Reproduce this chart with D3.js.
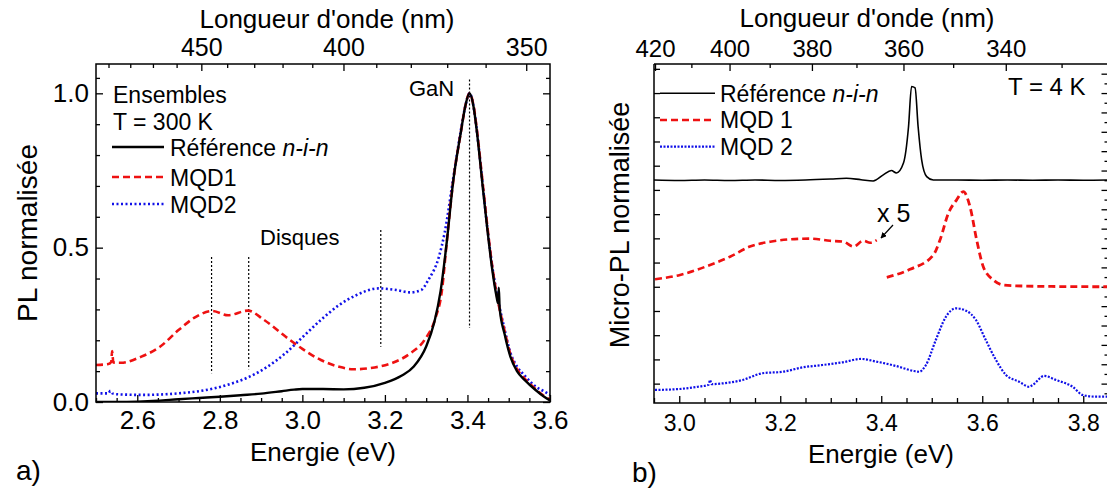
<!DOCTYPE html>
<html><head><meta charset="utf-8">
<script src="https://cdn.jsdelivr.net/npm/d3@7"></script>
<style>
body{margin:0;background:#fff}
text{font-family:"Liberation Sans",Arial,sans-serif;fill:#000}
</style>
</head><body>
<svg id="c" width="1107" height="489"></svg>
<script>
// ---------- Panel a) : ensembles, T = 300 K ----------
const energyRefA = [2.50,2.55,2.60,2.65,2.70,2.75,2.80,2.85,2.90,2.95,2.98,3.00,3.05,3.10,3.15,3.20,3.24,3.27,3.30,3.32,3.335,3.35,3.365,3.384,3.395,3.405,3.415,3.423,3.436,3.449,3.46,3.47,3.474,3.476,3.478,3.49,3.504,3.52,3.539,3.565,3.585,3.60];
const plRefA    = [0.0,0.0,0.001,0.004,0.009,0.013,0.017,0.022,0.027,0.035,0.040,0.042,0.042,0.041,0.046,0.062,0.085,0.115,0.18,0.26,0.36,0.52,0.71,0.874,0.96,1.0,0.955,0.874,0.71,0.55,0.43,0.345,0.32,0.37,0.305,0.22,0.147,0.10,0.071,0.039,0.018,0.005];

const energyMqd1A = [2.50,2.53,2.537,2.539,2.542,2.56,2.61,2.655,2.70,2.742,2.781,2.82,2.868,2.907,2.959,3.00,3.045,3.089,3.123,3.175,3.219,3.262,3.296,3.322,3.338,3.35,3.365,3.384,3.395,3.405,3.415,3.423,3.436,3.449,3.46,3.47,3.49,3.504,3.52,3.539,3.565,3.585,3.60];
const plMqd1A     = [0.12,0.123,0.13,0.165,0.128,0.127,0.147,0.179,0.233,0.276,0.295,0.281,0.296,0.266,0.212,0.172,0.136,0.114,0.106,0.112,0.127,0.158,0.201,0.27,0.36,0.52,0.71,0.874,0.96,1.0,0.958,0.88,0.72,0.56,0.44,0.355,0.23,0.155,0.107,0.075,0.042,0.02,0.008];

const energyMqd2A = [2.50,2.53,2.535,2.54,2.552,2.612,2.70,2.786,2.829,2.872,2.915,2.959,3.002,3.045,3.089,3.132,3.184,3.227,3.262,3.288,3.305,3.331,3.345,3.365,3.384,3.395,3.405,3.415,3.423,3.436,3.449,3.46,3.47,3.49,3.504,3.52,3.539,3.565,3.585,3.60];
const plMqd2A     = [0.028,0.028,0.036,0.028,0.025,0.023,0.028,0.044,0.06,0.082,0.114,0.158,0.212,0.266,0.314,0.347,0.368,0.363,0.355,0.363,0.395,0.471,0.55,0.72,0.88,0.96,1.0,0.955,0.876,0.715,0.555,0.44,0.36,0.235,0.16,0.115,0.085,0.05,0.035,0.023];

// marker lines (dotted verticals)
const markerEnergyA = [2.78,2.87,3.19,3.405];
const markerTopA    = [0.47,0.47,0.557,1.045];
const markerBottomA = [0.093,0.106,0.179,0.24];

const energyTicksA   = [2.6,2.8,3.0,3.2,3.4,3.6];
const energyMinorA   = [2.5,2.55,2.65,2.7,2.75,2.85,2.9,2.95,3.05,3.1,3.15,3.25,3.3,3.35,3.45,3.5,3.55];
const plTicksA       = [0.0,0.5,1.0];
const plMinorA       = [0.1,0.2,0.3,0.4,0.6,0.7,0.8,0.9,1.05];
const wlTicksA       = [450,400,350];
const wlMinorA       = [490,480,470,460,440,430,420,410,390,380,370,360];

// ---------- Panel b) : micro-PL, T = 4 K (offset, arbitrary units) ----------
const energyRefB = [2.95,3.0,3.05,3.1,3.15,3.2,3.25,3.3,3.331,3.36,3.384,3.404,3.42,3.43,3.444,3.454,3.460,3.467,3.473,3.48,3.49,3.503,3.55,3.6,3.65,3.7,3.75,3.8,3.85];
const plRefB     = [8.41,8.39,8.41,8.39,8.41,8.39,8.41,8.45,8.48,8.42,8.37,8.62,8.80,8.70,9.11,10.61,12.27,12.21,10.61,9.24,8.55,8.41,8.41,8.40,8.41,8.40,8.41,8.40,8.41];

const energyMqd1B1 = [2.952,3.0015,3.061,3.1005,3.14,3.18,3.219,3.259,3.2986,3.325,3.345,3.3645,3.378,3.391];
const plMqd1B1     = [4.31,4.49,4.90,5.24,5.66,5.86,5.96,5.99,5.90,5.86,5.66,5.90,5.82,5.93];
const energyMqd1B2 = [3.411,3.457,3.503,3.5163,3.533,3.549,3.5625,3.5757,3.589,3.602,3.622,3.642,3.681,3.75,3.85];
const plMqd1B2     = [4.39,4.72,5.31,5.93,7.04,7.58,7.93,7.31,5.93,4.83,4.28,4.07,4.03,4.01,4.00];

const energyMqd2B = [2.952,2.995,3.037,3.058,3.061,3.064,3.086,3.1255,3.165,3.205,3.244,3.284,3.3235,3.36,3.39,3.429,3.465,3.475,3.4885,3.508,3.528,3.548,3.568,3.5875,3.607,3.627,3.647,3.673,3.693,3.6996,3.7227,3.746,3.779,3.799,3.825,3.85];
const plMqd2B     = [-0.26,-0.23,-0.13,-0.05,0.15,-0.02,0.01,0.15,0.43,0.49,0.67,0.77,0.88,1.02,0.91,0.73,0.52,0.49,0.77,1.80,2.76,3.11,3.01,2.63,1.80,0.98,0.36,0.08,-0.13,-0.06,0.32,0.15,-0.13,-0.47,-0.54,-0.54];

const energyTicksB = [3.0,3.2,3.4,3.6,3.8];
const energyMinorB = [2.95,3.05,3.1,3.15,3.25,3.3,3.35,3.45,3.5,3.55,3.65,3.7,3.75,3.85];
const plTicksLeftB = [0,1,2,3,4,5,6,7,8,9,10,11,12,13];
const plTicksRightLongB  = [12.8,12,11.2,10.4,9.6,8.8,8,7.2,6.4,5.6,4.8,4,3.2,2.4,1.6,0.8,0];
const plTicksRightShortB = [12.4,11.6,10.8,10,9.2,8.4,7.6,6.8,6,5.2,4.4,3.6,2.8,2,1.2,0.4,-0.4];
const wlTicksB = [420,400,380,360,340];
const wlMinorB = [410,390,370,350,330];

const HC = 1239.84; // eV·nm

const svg = d3.select("#c");
const FONT = '"Liberation Sans",Arial,sans-serif';

function axisStyle(g){
  g.select(".domain").remove();
  g.selectAll("line").attr("stroke","#000").attr("stroke-width",1.3);
  g.selectAll("text").attr("font-family",FONT).attr("fill","#000");
}

// ================= PANEL A =================
const xA = d3.scaleLinear().domain([2.5,3.6]).range([96,550]);
const yA = d3.scaleLinear().domain([0,1.095]).range([402,64]);
const gA = svg.append("g");
gA.append("clipPath").attr("id","clipA").append("rect")
  .attr("x",96).attr("y",64).attr("width",454).attr("height",338);

// axes
gA.append("g").attr("transform","translate(0,402)")
  .call(d3.axisBottom(xA).tickValues(energyTicksA).tickFormat(d3.format(".1f")).tickSize(-7).tickPadding(9))
  .call(axisStyle).selectAll("text").attr("font-size",26);
gA.append("g").attr("transform","translate(0,402)")
  .call(d3.axisBottom(xA).tickValues(energyMinorA).tickFormat("").tickSize(-4)).call(axisStyle);
gA.append("g").attr("transform","translate(0,64)")
  .call(d3.axisTop(xA).tickValues(wlTicksA.map(l=>HC/l)).tickFormat((d,i)=>wlTicksA[i]).tickSize(-7).tickPadding(8))
  .call(axisStyle).selectAll("text").attr("font-size",25);
gA.append("g").attr("transform","translate(0,64)")
  .call(d3.axisTop(xA).tickValues(wlMinorA.map(l=>HC/l)).tickFormat("").tickSize(-4)).call(axisStyle);
gA.append("g").attr("transform","translate(96,0)")
  .call(d3.axisLeft(yA).tickValues(plTicksA).tickFormat(d3.format(".1f")).tickSize(-7).tickPadding(7))
  .call(axisStyle).selectAll("text").attr("font-size",26);
gA.append("g").attr("transform","translate(96,0)")
  .call(d3.axisLeft(yA).tickValues(plMinorA).tickFormat("").tickSize(-4)).call(axisStyle);
gA.append("g").attr("transform","translate(550,0)")
  .call(d3.axisRight(yA).tickValues(plTicksA).tickFormat("").tickSize(-7)).call(axisStyle);
gA.append("g").attr("transform","translate(550,0)")
  .call(d3.axisRight(yA).tickValues(plMinorA).tickFormat("").tickSize(-4)).call(axisStyle);

// marker lines
markerEnergyA.forEach((e,i)=>{
  gA.append("line").attr("x1",xA(e)).attr("x2",xA(e))
    .attr("y1",yA(markerTopA[i])).attr("y2",yA(markerBottomA[i]))
    .attr("stroke","#000").attr("stroke-width",1.2).attr("stroke-dasharray","2,2");
});

const lineA = (xs,ys)=>d3.line().curve(d3.curveMonotoneX).x((d,i)=>xA(xs[i])).y((d,i)=>yA(ys[i]))(xs);
const curvesA = gA.append("g").attr("clip-path","url(#clipA)");
curvesA.append("path").attr("d",lineA(energyMqd2A,plMqd2A)).attr("fill","none")
  .attr("stroke","#1010e8").attr("stroke-width",2.6).attr("stroke-dasharray","2,2.5");
curvesA.append("path").attr("d",lineA(energyMqd1A,plMqd1A)).attr("fill","none")
  .attr("stroke","#ee1111").attr("stroke-width",2.6).attr("stroke-dasharray","7,4");
curvesA.append("path").attr("d",lineA(energyRefA,plRefA)).attr("fill","none")
  .attr("stroke","#000").attr("stroke-width",2.4);

gA.append("rect").attr("x",96).attr("y",64).attr("width",454).attr("height",338)
  .attr("fill","none").attr("stroke","#000").attr("stroke-width",1.5);

// texts
gA.append("text").attr("x",327).attr("y",28).attr("text-anchor","middle").attr("font-size",26).text("Longueur d'onde (nm)");
gA.append("text").attr("x",323).attr("y",461).attr("text-anchor","middle").attr("font-size",26).text("Energie (eV)");
gA.append("text").attr("transform","translate(37,233) rotate(-90)").attr("text-anchor","middle").attr("font-size",28).text("PL normalisée");
gA.append("text").attr("x",16).attr("y",480).attr("font-size",28).text("a)");
gA.append("text").attr("x",409).attr("y",96).attr("font-size",22).text("GaN");
gA.append("text").attr("x",260).attr("y",245).attr("font-size",22).text("Disques");
gA.append("text").attr("x",113).attr("y",103).attr("font-size",23).text("Ensembles");
gA.append("text").attr("x",113).attr("y",130).attr("font-size",23).text("T = 300 K");
const legA = [
  {y:147, stroke:"#000", dash:null, w:2.4, label:"Référence ", it:"n-i-n"},
  {y:177, stroke:"#ee1111", dash:"7,4", w:2.6, label:"MQD1", it:""},
  {y:204, stroke:"#1010e8", dash:"2,2.5", w:2.6, label:"MQD2", it:""}
];
legA.forEach(l=>{
  const ln = gA.append("line").attr("x1",112).attr("x2",164).attr("y1",l.y).attr("y2",l.y)
    .attr("stroke",l.stroke).attr("stroke-width",l.w);
  if(l.dash) ln.attr("stroke-dasharray",l.dash);
  const t = gA.append("text").attr("x",170).attr("y",l.y+8.5).attr("font-size",23).text(l.label);
  if(l.it) t.append("tspan").attr("font-style","italic").text(l.it);
});

// ================= PANEL B =================
const xB = d3.scaleLinear().domain([2.95,3.85]).range([654,1108.5]);
const yB = d3.scaleLinear().domain([-0.8,13.2]).range([403,64]);
const gB = svg.append("g");
gB.append("clipPath").attr("id","clipB").append("rect")
  .attr("x",654).attr("y",64).attr("width",454.5).attr("height",339);

gB.append("g").attr("transform","translate(0,403)")
  .call(d3.axisBottom(xB).tickValues(energyTicksB).tickFormat(d3.format(".1f")).tickSize(-7).tickPadding(12))
  .call(axisStyle).selectAll("text").attr("font-size",23);
gB.append("g").attr("transform","translate(0,403)")
  .call(d3.axisBottom(xB).tickValues(energyMinorB).tickFormat("").tickSize(-5)).call(axisStyle);
gB.append("g").attr("transform","translate(0,64)")
  .call(d3.axisTop(xB).tickValues(wlTicksB.map(l=>HC/l)).tickFormat((d,i)=>wlTicksB[i]).tickSize(-7).tickPadding(7))
  .call(axisStyle).selectAll("text").attr("font-size",24);
gB.append("g").attr("transform","translate(0,64)")
  .call(d3.axisTop(xB).tickValues(wlMinorB.map(l=>HC/l)).tickFormat("").tickSize(-4)).call(axisStyle);
gB.append("g").attr("transform","translate(654,0)")
  .call(d3.axisLeft(yB).tickValues(plTicksLeftB).tickFormat("").tickSize(-6)).call(axisStyle);
gB.append("g").attr("transform","translate(1108.5,0)")
  .call(d3.axisRight(yB).tickValues(plTicksRightLongB).tickFormat("").tickSize(-7)).call(axisStyle);
gB.append("g").attr("transform","translate(1108.5,0)")
  .call(d3.axisRight(yB).tickValues(plTicksRightShortB).tickFormat("").tickSize(-4)).call(axisStyle);

const lineB = (xs,ys)=>d3.line().curve(d3.curveMonotoneX).x((d,i)=>xB(xs[i])).y((d,i)=>yB(ys[i]))(xs);
const curvesB = gB.append("g").attr("clip-path","url(#clipB)");
curvesB.append("path").attr("d",lineB(energyRefB,plRefB)).attr("fill","none")
  .attr("stroke","#000").attr("stroke-width",1.6);
curvesB.append("path").attr("d",lineB(energyMqd1B1,plMqd1B1)).attr("fill","none")
  .attr("stroke","#ee1111").attr("stroke-width",2.6).attr("stroke-dasharray","7,4");
curvesB.append("path").attr("d",lineB(energyMqd1B2,plMqd1B2)).attr("fill","none")
  .attr("stroke","#ee1111").attr("stroke-width",2.8).attr("stroke-dasharray","7,4");
curvesB.append("path").attr("d",lineB(energyMqd2B,plMqd2B)).attr("fill","none")
  .attr("stroke","#1010e8").attr("stroke-width",2.2).attr("stroke-dasharray","2,1.5");

gB.append("path").attr("d","M654,64 H1108.5 M654,64 V403 H1108.5")
  .attr("fill","none").attr("stroke","#000").attr("stroke-width",1.5);

gB.append("text").attr("x",867).attr("y",27).attr("text-anchor","middle").attr("font-size",26).text("Longueur d'onde (nm)");
gB.append("text").attr("x",881).attr("y",463).attr("text-anchor","middle").attr("font-size",26).text("Energie (eV)");
gB.append("text").attr("transform","translate(629,225) rotate(-90)").attr("text-anchor","middle").attr("font-size",27).text("Micro-PL normalisée");
gB.append("text").attr("x",632).attr("y",482).attr("font-size",28).text("b)");
gB.append("text").attr("x",1008).attr("y",95).attr("font-size",24).text("T = 4 K");
gB.append("text").attr("x",877).attr("y",222).attr("font-size",25).text("x 5");
gB.append("defs").append("marker").attr("id","arr").attr("viewBox","0 0 10 10").attr("refX",9).attr("refY",5)
  .attr("markerWidth",5).attr("markerHeight",5).attr("orient","auto")
  .append("path").attr("d","M0,0 L10,5 L0,10 z").attr("fill","#000");
gB.append("line").attr("x1",893).attr("y1",225).attr("x2",881).attr("y2",238)
  .attr("stroke","#000").attr("stroke-width",1.2).attr("marker-end","url(#arr)");
const legB = [
  {y:93.3, stroke:"#000", dash:null, w:1.6, label:"Référence ", it:"n-i-n"},
  {y:120, stroke:"#ee1111", dash:"7,4", w:2.6, label:"MQD 1", it:""},
  {y:146.7, stroke:"#1010e8", dash:"2,1.5", w:2.2, label:"MQD 2", it:""}
];
legB.forEach(l=>{
  const ln = gB.append("line").attr("x1",660).attr("x2",715).attr("y1",l.y).attr("y2",l.y)
    .attr("stroke",l.stroke).attr("stroke-width",l.w);
  if(l.dash) ln.attr("stroke-dasharray",l.dash);
  const t = gB.append("text").attr("x",720).attr("y",l.y+8.3).attr("font-size",23).text(l.label);
  if(l.it) t.append("tspan").attr("font-style","italic").text(l.it);
});
</script>
</body></html>
